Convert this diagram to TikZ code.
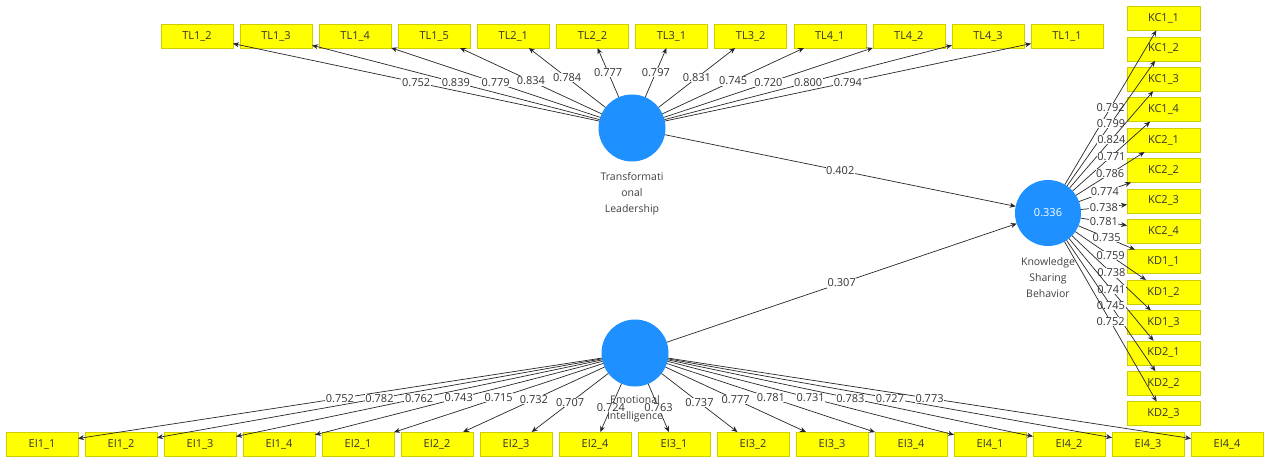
\documentclass[tikz,border=0pt]{standalone}
\usepackage{fontspec}
\setmainfont{Open Sans}
\usetikzlibrary{matrix,positioning,arrows.meta}
\definecolor{lvblue}{RGB}{30,144,255}
\definecolor{mvyellow}{RGB}{255,255,0}
\definecolor{mvborder}{RGB}{205,205,0}

\begin{document}
\begin{tikzpicture}[x=1pt, y=-1pt,
  latent/.style={circle, fill=lvblue, minimum size=67pt, inner sep=0pt, outer sep=0pt,
                 text=white, font=\fontsize{11}{13}\selectfont},
  lvname/.style={align=center, inner sep=0pt, text=black!75, font=\fontsize{10.5}{16}\selectfont},
  item/.style={rectangle, draw=mvborder, line width=0.4pt, fill=mvyellow,
               minimum width=72pt, minimum height=24pt,
               inner sep=0pt, outer sep=0pt,
               anchor=center, font=\fontsize{11}{12}\selectfont, text=black!80},
  load/.style={draw=black!85, line width=0.7pt, -{Stealth[length=6pt,width=5pt]}},
  coef/.style={fill=white, inner sep=0.6pt, font=\fontsize{11}{13}\selectfont, text=black!80},
]
\useasboundingbox (0,0) rectangle (1267,457);

% latent variables
\node[latent] (TL) at (632,128) {};
\node[latent] (EI) at (635,353) {};
\node[latent, minimum size=66pt] (KSB) at (1048,213) {0.336};

% indicators
\matrix (top) at (632,36) [matrix of nodes, column sep=6.7pt, inner sep=0pt, nodes={item}]
{
TL1\_2 & TL1\_3 & TL1\_4 & TL1\_5 & TL2\_1 & TL2\_2 & TL3\_1 & TL3\_2 & TL4\_1 & TL4\_2 & TL4\_3 & TL1\_1 \\
};
\matrix (kbox) at (1163.5,216) [matrix of nodes, row sep=6pt, inner sep=0pt,
                                nodes={item, minimum width=73pt}]
{
KC1\_1 \\ KC1\_2 \\ KC1\_3 \\ KC1\_4 \\ KC2\_1 \\ KC2\_2 \\ KC2\_3 \\
KC2\_4 \\ KD1\_1 \\ KD1\_2 \\ KD1\_3 \\ KD2\_1 \\ KD2\_2 \\ KD2\_3 \\
};
\matrix (bottom) at (634.5,444) [matrix of nodes, column sep=6.6pt, inner sep=0pt, nodes={item}]
{
EI1\_1 & EI1\_2 & EI1\_3 & EI1\_4 & EI2\_1 & EI2\_2 & EI2\_3 & EI2\_4 &
EI3\_1 & EI3\_2 & EI3\_3 & EI3\_4 & EI4\_1 & EI4\_2 & EI4\_3 & EI4\_4 \\
};

% outer loadings
\foreach \c/\v in {1/0.752, 2/0.839, 3/0.779, 4/0.834, 5/0.784, 6/0.777,
                   7/0.797, 8/0.831, 9/0.745, 10/0.720, 11/0.800, 12/0.794}
  \draw[load] (TL) -- node[coef] {\v} (top-1-\c);
\foreach \r/\v in {1/0.792, 2/0.799, 3/0.824, 4/0.771, 5/0.786, 6/0.774, 7/0.738,
                   8/0.781, 9/0.735, 10/0.759, 11/0.738, 12/0.741, 13/0.745, 14/0.752}
  \draw[load] (KSB) -- node[coef] {\v} (kbox-\r-1);
\foreach \c/\v in {1/0.752, 2/0.782, 3/0.762, 4/0.743, 5/0.715, 6/0.732, 7/0.707, 8/0.724,
                   9/0.763, 10/0.737, 11/0.777, 12/0.781, 13/0.731, 14/0.783, 15/0.727, 16/0.773}
  \draw[load] (EI) -- node[coef] {\v} (bottom-1-\c);

% path coefficients
\draw[load] (TL) -- node[coef] {0.402} (KSB);
\draw[load] (EI) -- node[coef] {0.307} (KSB);

% construct names
\node[lvname, below=11pt of TL] (TLname) {Transformati\\onal\\Leadership};
\node[lvname, below=11pt of KSB] (KSBname) {Knowledge\\Sharing\\Behavior};
\node[lvname, below=9pt of EI] (EIname) {Emotional\\Intelligence};
\end{tikzpicture}
\end{document}
